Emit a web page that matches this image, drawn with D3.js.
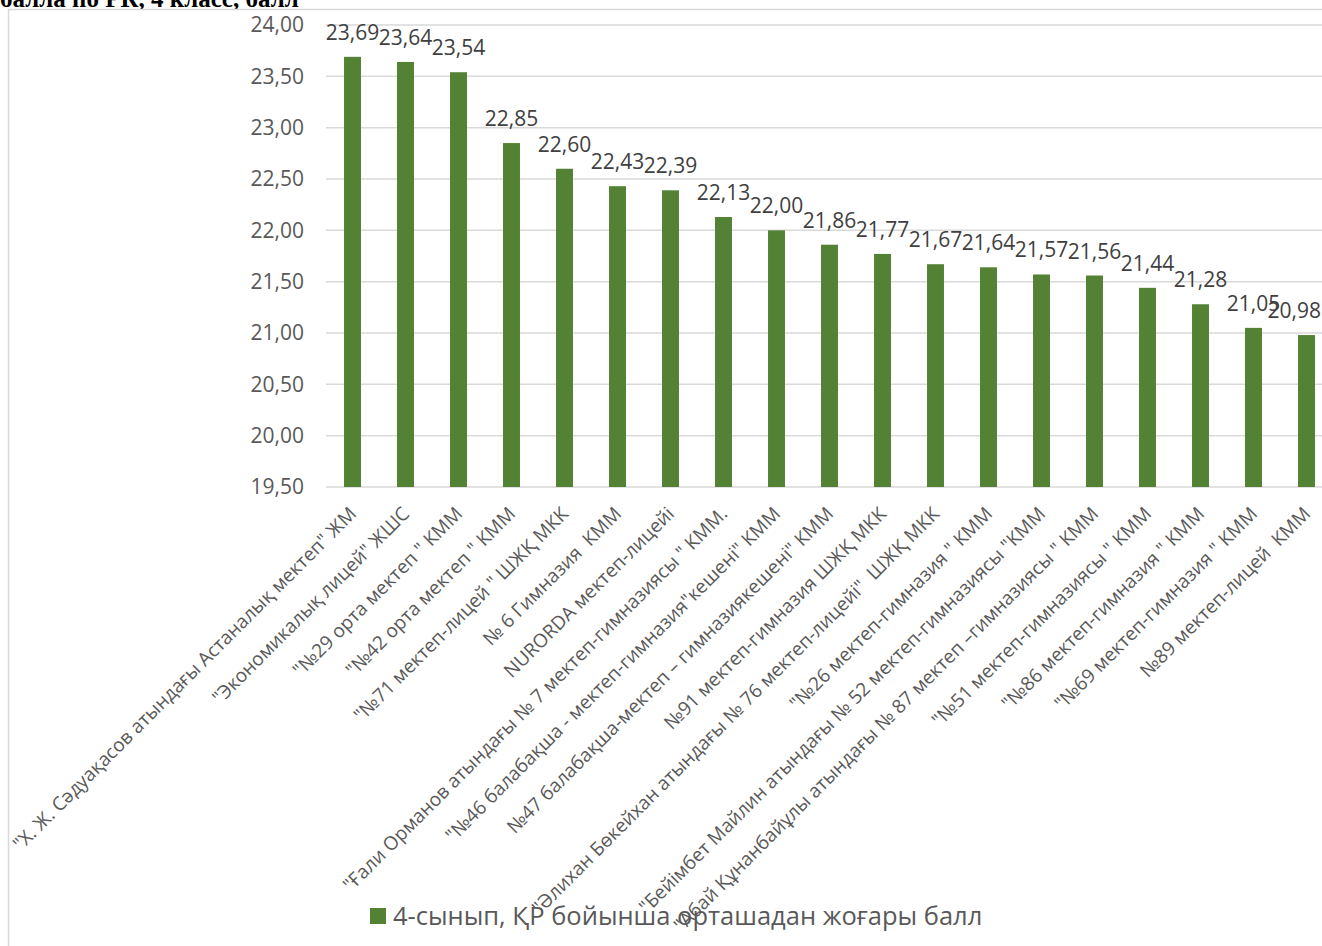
<!DOCTYPE html>
<html><head><meta charset="utf-8">
<script src="https://cdn.jsdelivr.net/npm/d3@7/dist/d3.min.js"></script>
<style>
html,body{margin:0;padding:0;background:#fff;overflow:hidden;}
svg{display:block;}
text{white-space:pre;}
</style></head>
<body>
<svg id="chart" width="1322" height="946"></svg>
<script>
const titleText = "балла по РК, 4 класс, балл";
const seriesName = "4-сынып, ҚР бойынша орташадан жоғары балл";
const categories = [
  "\"Х. Ж. Сәдуақасов атындағы Астаналық мектеп\" ЖМ",
  "\"Экономикалық лицей\" ЖШС",
  "\"№29 орта мектеп \" КММ",
  "\"№42 орта мектеп \" КММ",
  "\"№71 мектеп-лицей \" ШЖҚ МКК",
  "№ 6 Гимназия  КММ",
  "NURORDA мектеп-лицейі",
  "\"Ғали Орманов атындағы № 7 мектеп-гимназиясы \" КММ.",
  "\"№46 балабақша - мектеп-гимназия\"кешені\" КММ",
  "№47 балабақша-мектеп – гимназиякешені\" КММ",
  "№91 мектеп-гимназия ШЖҚ МКК",
  "\"Әлихан Бөкейхан атындағы № 76 мектеп-лицейі\"  ШЖҚ МКК",
  "\"№26 мектеп-гимназия \" КММ",
  "\"Бейімбет Майлин атындағы № 52 мектеп-гимназиясы \"КММ",
  "\"Абай Құнанбайұлы атындағы № 87 мектеп –гимназиясы \" КММ",
  "\"№51 мектеп-гимназиясы \" КММ",
  "\"№86 мектеп-гимназия \" КММ",
  "\"№69 мектеп-гимназия \" КММ",
  "№89 мектеп-лицей  КММ"
];
const values = [23.69, 23.64, 23.54, 22.85, 22.60, 22.43, 22.39, 22.13, 22.00, 21.86, 21.77, 21.67, 21.64, 21.57, 21.56, 21.44, 21.28, 21.05, 20.98];
const yTicks = [19.5, 20, 20.5, 21, 21.5, 22, 22.5, 23, 23.5, 24];

const svg = d3.select("#chart");
const fmt = v => d3.format(".2f")(v).replace(".", ",");
const font = "'Open Sans', 'Noto Sans', sans-serif";

// title (cut off at top, as in the source)
svg.append("text").attr("x", 0).attr("y", 7)
  .attr("font-family", "'Liberation Serif', serif").attr("font-weight", "bold")
  .attr("font-size", 25).attr("fill", "#000").text(titleText);

// chart frame
svg.append("rect").attr("x", 8.5).attr("y", 9.5).attr("width", 1330).attr("height", 950)
  .attr("fill", "#fff").attr("stroke", "#d9d9d9").attr("stroke-width", 1.5);

const x = d3.scaleBand().domain(categories).range([326, 1333]).paddingInner(0.68).paddingOuter(0.34);
const y = d3.scaleLinear().domain([19.5, 24]).range([487, 25]);

// gridlines
svg.append("g").selectAll("line").data(yTicks).join("line")
  .attr("x1", 326).attr("x2", 1333)
  .attr("y1", d => y(d)).attr("y2", d => y(d))
  .attr("stroke", "#d9d9d9").attr("stroke-width", 1.5);

// y axis labels
const yAxis = d3.axisLeft(y).tickValues(yTicks).tickFormat(fmt).tickSize(0).tickPadding(0);
const yg = svg.append("g").attr("transform", "translate(304,0)").call(yAxis);
yg.select(".domain").remove();
yg.selectAll("text").attr("font-family", font).attr("font-size", 21).attr("fill", "#595959");

// bars
svg.append("g").selectAll("rect").data(values).join("rect")
  .attr("x", (d, i) => x(categories[i]))
  .attr("width", x.bandwidth())
  .attr("y", d => y(d))
  .attr("height", d => y(19.5) - y(d))
  .attr("fill", "#548235");

// data labels (kept inside the chart edge)
svg.append("g").selectAll("text").data(values).join("text")
  .attr("y", d => y(d) - 17)
  .attr("text-anchor", "middle")
  .attr("font-family", font).attr("font-size", 21).attr("fill", "#404040")
  .text(fmt)
  .each(function(d, i) {
    const w = this.getComputedTextLength();
    const cx = x(categories[i]) + x.bandwidth() / 2;
    d3.select(this).attr("x", Math.min(cx, 1321 - w / 2));
  });

// x axis
const xAxis = d3.axisBottom(x).tickSize(0).tickPadding(0);
const xg = svg.append("g").attr("transform", "translate(0,487)").call(xAxis);
xg.select(".domain").remove();
xg.selectAll("text")
  .attr("font-family", font).attr("font-size", 19).attr("fill", "#595959")
  .attr("text-anchor", "end").attr("dy", null).attr("y", null)
  .attr("transform", "translate(5,28) rotate(-45)");

// legend
const lg = svg.append("g");
lg.append("rect").attr("x", 370).attr("y", 908).attr("width", 16).attr("height", 16).attr("fill", "#548235");
lg.append("text").attr("x", 393).attr("y", 925)
  .attr("font-family", font).attr("font-size", 25.5).attr("fill", "#595959").text(seriesName);
</script>
</body></html>
